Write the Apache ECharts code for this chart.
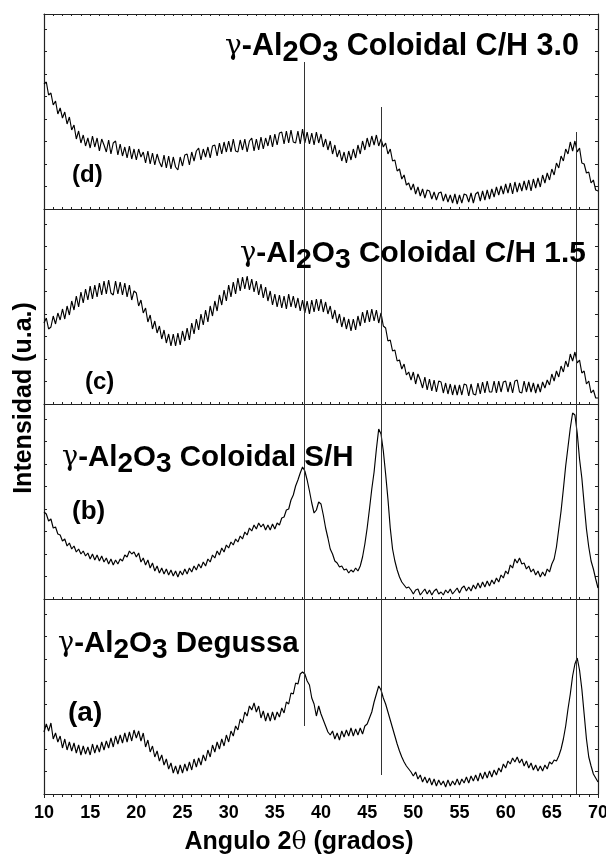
<!DOCTYPE html>
<html>
<head>
<meta charset="utf-8">
<script src="https://cdn.jsdelivr.net/npm/echarts@6/dist/echarts.min.js"></script>
<style>
html,body{margin:0;padding:0;background:#fff;}
#chart{width:606px;height:855px;}
</style>
</head>
<body>
<div id="chart"></div>
<script>
// 2θ sample positions (degrees)
const angles = [
10,10.25,10.5,10.75,11,11.25,11.5,11.75,12,12.25,12.5,12.75,13,13.25,13.5,13.75,14,14.25,14.5,14.75,
15,15.25,15.5,15.75,16,16.25,16.5,16.75,17,17.25,17.5,17.75,18,18.25,18.5,18.75,19,19.25,19.5,19.75,
20,20.25,20.5,20.75,21,21.25,21.5,21.75,22,22.25,22.5,22.75,23,23.25,23.5,23.75,24,24.25,24.5,24.75,
25,25.25,25.5,25.75,26,26.25,26.5,26.75,27,27.25,27.5,27.75,28,28.25,28.5,28.75,29,29.25,29.5,29.75,
30,30.25,30.5,30.75,31,31.25,31.5,31.75,32,32.25,32.5,32.75,33,33.25,33.5,33.75,34,34.25,34.5,34.75,
35,35.25,35.5,35.75,36,36.25,36.5,36.75,37,37.25,37.5,37.75,38,38.25,38.5,38.75,39,39.25,39.5,39.75,
40,40.25,40.5,40.75,41,41.25,41.5,41.75,42,42.25,42.5,42.75,43,43.25,43.5,43.75,44,44.25,44.5,44.75,
45,45.25,45.5,45.75,46,46.25,46.5,46.75,47,47.25,47.5,47.75,48,48.25,48.5,48.75,49,49.25,49.5,49.75,
50,50.25,50.5,50.75,51,51.25,51.5,51.75,52,52.25,52.5,52.75,53,53.25,53.5,53.75,54,54.25,54.5,54.75,
55,55.25,55.5,55.75,56,56.25,56.5,56.75,57,57.25,57.5,57.75,58,58.25,58.5,58.75,59,59.25,59.5,59.75,
60,60.25,60.5,60.75,61,61.25,61.5,61.75,62,62.25,62.5,62.75,63,63.25,63.5,63.75,64,64.25,64.5,64.75,
65,65.25,65.5,65.75,66,66.25,66.5,66.75,67,67.25,67.5,67.75,68,68.25,68.5,68.75,69,69.25,69.5,69.75,
70];

// (d) γ-Al2O3 Coloidal C/H 3.0  (intensity, a.u., offset within its panel)
const intensityD = [
125,127,114,116,104,108,95,101,91,97,85,92,79,84,70,78,66,74,63,71,
61,73,62,71,58,70,64,57,69,55,66,68,54,65,53,62,51,63,50,60,
49,60,52,57,46,58,45,56,44,55,47,42,54,41,53,40,52,42,39,52,
43,54,55,44,57,48,58,61,49,60,52,62,51,63,64,53,66,55,67,57,
68,57,70,58,57,69,59,70,57,68,71,58,70,59,72,60,71,63,74,62,
75,64,76,77,65,78,66,79,67,66,78,65,80,66,77,65,76,64,77,66,
75,62,70,59,68,55,64,52,59,48,57,46,58,49,60,51,64,55,68,59,
71,62,73,64,74,63,70,62,66,55,60,48,49,38,40,30,34,24,26,19,
25,15,22,13,20,11,19,18,10,17,9,16,17,8,15,7,14,6,15,5,
14,6,15,14,7,16,6,15,17,8,18,9,19,10,20,12,22,14,23,15,
25,16,26,15,27,17,26,18,28,19,29,18,30,21,31,22,34,26,36,29,
40,34,46,41,53,48,60,55,67,58,68,57,61,46,45,36,37,26,29,19,
18];

// (c) γ-Al2O3 Coloidal C/H 1.5
const intensityC = [
81,86,75,77,88,80,91,84,95,85,98,89,103,94,108,97,112,101,115,104,
118,105,119,107,121,109,123,110,124,111,109,123,110,122,109,121,107,119,104,113,
111,98,104,91,96,82,89,75,83,71,78,65,74,61,70,58,70,58,71,59,
73,63,76,64,81,70,85,74,90,79,94,82,98,88,103,93,109,99,114,103,
119,107,122,110,126,113,127,115,128,114,125,112,123,109,120,106,117,103,113,99,
110,97,109,96,108,95,110,97,108,96,106,93,104,91,103,90,104,92,105,93,
105,92,102,90,98,85,94,81,90,77,87,75,85,73,85,74,88,78,92,81,
94,82,95,83,94,81,91,78,76,63,64,53,54,43,44,35,40,29,32,24,
32,20,30,24,16,27,14,25,13,24,12,23,22,11,21,10,20,9,19,9,
19,9,20,19,8,20,10,9,21,10,22,11,23,12,12,23,11,23,12,22,
23,12,22,11,23,24,12,11,23,12,22,12,21,11,20,12,22,16,24,19,
30,23,33,27,38,32,43,37,50,43,52,41,44,31,33,20,23,11,14,6,
6];

// (b) γ-Al2O3 Coloidal S/H
const intensityB = [
87,85,78,80,71,72,65,64,58,60,53,56,50,53,47,50,45,48,43,46,
40,45,39,44,38,43,37,41,35,40,34,39,35,40,38,44,42,48,45,47,
42,46,37,41,34,39,31,36,28,33,26,31,25,30,24,29,23,28,22,28,
24,30,25,31,27,33,29,35,31,37,33,40,37,44,41,48,44,51,47,54,
51,57,54,60,57,63,60,67,64,71,68,74,70,76,72,75,69,74,69,75,
70,76,74,81,82,89,90,99,104,113,119,126,132,128,119,108,96,86,89,97,
95,84,71,61,50,45,38,36,32,33,29,30,26,29,27,31,28,33,42,55,
71,90,110,127,150,170,165,148,125,100,71,50,38,29,22,17,14,11,12,9,
5,9,10,4,7,10,5,9,4,8,10,5,7,4,9,6,10,5,8,11,
6,11,13,8,12,8,14,10,16,11,17,12,18,13,19,15,21,17,24,21,
28,25,34,31,40,36,41,35,36,30,33,27,30,24,28,22,27,23,30,27,
35,40,52,70,88,110,133,152,171,186,184,166,140,121,95,70,52,38,30,20,
11];

// (a) γ-Al2O3 Degussa
const intensityA = [
62,70,63,71,55,61,52,58,46,55,44,52,43,51,41,49,39,48,40,47,
39,50,41,49,42,52,44,53,46,56,47,58,50,59,51,61,52,62,53,64,
56,63,53,61,47,54,42,48,37,43,33,39,29,35,25,31,21,28,20,29,
21,30,23,32,24,35,27,36,29,39,33,44,37,49,42,52,45,55,48,59,
52,63,58,68,64,75,71,82,78,88,84,91,82,88,76,83,73,81,73,82,
74,82,77,86,81,92,90,101,100,111,110,120,122,120,113,109,96,90,78,88,
80,74,68,62,59,63,55,61,54,63,57,64,58,66,58,65,59,66,60,68,
70,76,82,92,100,108,104,96,90,82,74,66,58,50,43,37,32,28,25,22,
18,22,15,19,12,17,11,16,9,15,8,14,9,13,7,14,8,13,9,15,
9,15,11,17,11,18,13,19,13,21,15,22,16,23,17,24,19,26,22,30,
26,33,30,36,32,37,31,35,28,33,26,31,24,29,23,28,23,29,25,32,
30,34,33,38,45,55,68,85,100,118,130,136,124,105,80,55,37,28,20,16,
12];

// reference reflections (vertical lines) and their extents
const refAngles = [38.2, 46.5, 67.6];
const refTopInD = [147, 102, 77];     // upper end of each line inside panel (d)
const refBottomInA = [68, 19, 0];     // lower end of each line inside panel (a)

const xTicks = ['10','15','20','25','30','35','40','45','50','55','60','65','70'];

const panels = [
  {name:'d', data:intensityD, top:14},
  {name:'c', data:intensityC, top:209},
  {name:'b', data:intensityB, top:404},
  {name:'a', data:intensityA, top:599}
];
const PH = 195;
const YMAX = 195;

const chart = echarts.init(document.getElementById('chart'), null, {renderer:'canvas'});

const grids = [], xAxes = [], yAxes = [], series = [];
const axisColor = '#222';
panels.forEach((p, i) => {
  grids.push({left:44, right:8, top:p.top, height:PH, containLabel:false, outerBoundsMode:'none'});
  const isBottom = i === panels.length - 1;
  xAxes.push({
    type:'value', gridIndex:i, min:10, max:70, interval:5, position:'bottom',
    axisLine:{show:true, onZero:false, lineStyle:{color:axisColor, width:1.2}},
    axisTick:{show:true, inside:!isBottom, length:isBottom?4:2, lineStyle:{color:axisColor}},
    minorTick:{show:true, splitNumber:5, length:isBottom?3:2, lineStyle:{color:axisColor}},
    axisLabel:{show:isBottom, color:'#000', fontSize:18, fontWeight:'bold',
      fontFamily:'Liberation Sans, Arial, sans-serif', margin:10,
      hideOverlap:false,
      formatter:v => xTicks[Math.round((v-10)/5)]},
    splitLine:{show:false}
  });
  yAxes.push({
    type:'value', gridIndex:i, min:0, max:YMAX, interval:22.5, position:'left',
    axisLine:{show:true, lineStyle:{color:axisColor, width:1.2}},
    axisTick:{show:true, inside:true, length:3, lineStyle:{color:axisColor}},
    axisLabel:{show:false}, splitLine:{show:false}
  });
  yAxes.push({
    type:'value', gridIndex:i, min:0, max:YMAX, interval:22.5, position:'right',
    axisLine:{show:true, lineStyle:{color:axisColor, width:1.2}},
    axisTick:{show:true, inside:true, length:3, lineStyle:{color:axisColor}},
    axisLabel:{show:false}, splitLine:{show:false}
  });

  const mlData = refAngles.map((a, k) => {
    let y0 = 0, y1 = YMAX;
    if (p.name === 'd') y1 = refTopInD[k];
    if (p.name === 'a') y0 = refBottomInA[k];
    return [{coord:[a, y1]}, {coord:[a, y0]}];
  });

  series.push({
    type:'line', xAxisIndex:i, yAxisIndex:i*2,
    data: angles.map((a, k) => [a, p.data[k]]),
    showSymbol:false, symbol:'none', smooth:false,
    lineStyle:{color:'#000', width:1.15},
    animation:false, silent:true, clip:true,
    markLine:{
      silent:true, symbol:['none','none'], animation:false,
      label:{show:false},
      lineStyle:{color:'#333', width:1, type:'solid'},
      emphasis:{disabled:true},
      data: mlData
    }
  });
});

// top axis of the first panel
xAxes.push({
  type:'value', gridIndex:0, min:10, max:70, interval:5, position:'top',
  axisLine:{show:true, onZero:false, lineStyle:{color:axisColor, width:1.2}},
  axisTick:{show:true, inside:true, length:2, lineStyle:{color:axisColor}},
  minorTick:{show:true, splitNumber:5, length:2, lineStyle:{color:axisColor}},
  axisLabel:{show:false}, splitLine:{show:false}
});

const FF = '"Liberation Sans", Arial, sans-serif';
function titleText(x, y, rest, size) {
  return {
    type:'text', left:x, top:y, z:100,
    style:{
      text:'{g|γ}{m|-Al}{s|2}{m|O}{s|3}{m|' + rest + '}',
      fill:'#000',
      rich:{
        g:{fontFamily:'"DejaVu Serif", serif', fontWeight:'normal', fontSize:size-2.5, fill:'#000'},
        m:{fontFamily:FF, fontWeight:'bold', fontSize:size, fill:'#000'},
        s:{fontFamily:FF, fontWeight:'bold', fontSize:size-1.5, fill:'#000', padding:[12,0,0,0]}
      }
    }
  };
}
function labelText(x, yc, txt, size) {
  return {
    type:'text', left:x, top:yc - size*0.6, z:100,
    style:{text:txt, fill:'#000', font:'bold ' + size + 'px ' + FF}
  };
}

const graphic = [
  titleText(225, 31, ' Coloidal C/H 3.0', 30.5),
  titleText(240, 239, ' Coloidal C/H 1.5', 29.8),
  titleText(62, 443, ' Coloidal S/H', 29.5),
  titleText(58, 629, ' Degussa', 29.5),
  labelText(72, 178, '(d)', 24),
  labelText(85, 385, '(c)', 24),
  labelText(72, 514, '(b)', 26),
  labelText(68, 716, '(a)', 28),
  {
    type:'text', x:24, y:398, rotation:Math.PI/2, z:100,
    style:{text:'Intensidad (u.a.)', fill:'#000', font:'bold 25px ' + FF,
      textAlign:'center', textVerticalAlign:'middle'}
  },
  {
    type:'text', x:299, y:842, z:100,
    style:{text:'Angulo 2{t|θ} (grados)', fill:'#000', font:'bold 25px ' + FF,
      textAlign:'center', textVerticalAlign:'middle',
      rich:{t:{fontFamily:'"DejaVu Serif", serif', fontWeight:'normal', fontSize:25, fill:'#000'}}}
  }
];

chart.setOption({
  backgroundColor:'#fff',
  animation:false,
  grid:grids, xAxis:xAxes, yAxis:yAxes, series:series, graphic:graphic
});
</script>
</body>
</html>
